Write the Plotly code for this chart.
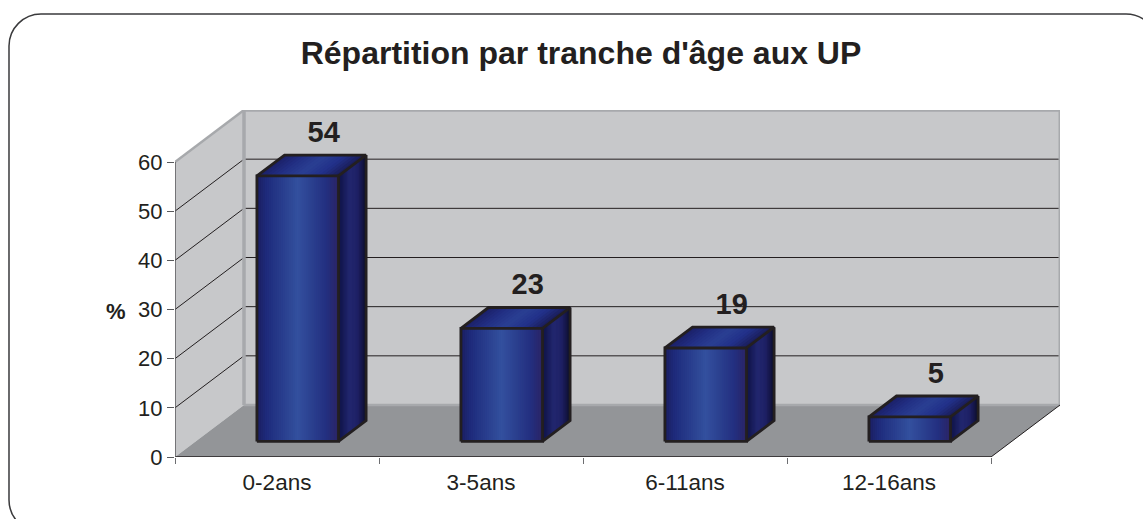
import plotly.graph_objects as go

categories = ["0-2ans", "3-5ans", "6-11ans", "12-16ans"]
values = [54, 23, 19, 5]
y_ticks = [0, 10, 20, 30, 40, 50, 60]
title_text = "Répartition par tranche d'âge aux UP"
y_label = "%"

W, H = 1143, 519
L, R, T, B = 175, 1060, 110, 457   # plot-area pixels
PX_CAT = 204.0
PX_VAL = 295.0 / 60.0
DX = 69.0 / PX_CAT      # full floor depth in category units
DY = 52.0 / PX_VAL      # full floor depth in value units
BAR_W = 0.4
D0, D1 = 0.3, 0.7       # bar front/back depth fractions
N = len(categories)
YMAX = y_ticks[-1]

DARK = "#231f20"
WALL = "#c7c8ca"
FLOOR = "#939598"
EDGE = "#a7a9ac"

FRONT = [(0, "#1b1e60"), (.12, "#1e2b7c"), (.5, "#33509e"), (.85, "#232f80"), (1, "#2b2465")]
TOP = [(0, "#1b1f66"), (.25, "#222f84"), (.5, "#2a3f92"), (.75, "#22318a"), (1, "#1a1c55")]
SIDE = [(0, "#0e1245"), (.4, "#22276f"), (.7, "#1e2064"), (1, "#0c0d2c")]


def colour(stops, t):
    for (a, ca), (b, cb) in zip(stops, stops[1:]):
        if t <= b:
            f = (t - a) / (b - a)
            pa = [int(ca[i:i + 2], 16) for i in (1, 3, 5)]
            pb = [int(cb[i:i + 2], 16) for i in (1, 3, 5)]
            return "rgb(%d,%d,%d)" % tuple(round(p + (q - p) * f) for p, q in zip(pa, pb))
    return stops[-1][1]


def pj(x, v, d=0.0):
    return x + d * DX, v + d * DY


def poly_path(points):
    return "M " + " L ".join(f"{x},{y}" for x, y in points) + " Z"


shapes = []


def add_poly(points, fill):
    shapes.append(dict(type="path", path=poly_path(points), xref="x", yref="y",
                       fillcolor=fill, line=dict(width=0), layer="below"))


def add_line(p, q, color, width):
    shapes.append(dict(type="line", xref="x", yref="y", x0=p[0], y0=p[1], x1=q[0], y1=q[1],
                       line=dict(color=color, width=width), layer="below"))


# walls and floor
add_poly([pj(0, 0), pj(0, YMAX), pj(0, YMAX, 1), pj(0, 0, 1)], WALL)
add_poly([pj(0, 0, 1), pj(0, YMAX, 1), pj(N, YMAX, 1), pj(N, 0, 1)], WALL)
add_poly([pj(0, 0), pj(N, 0), pj(N, 0, 1), pj(0, 0, 1)], FLOOR)
for v in y_ticks[1:-1]:
    add_line(pj(0, v), pj(0, v, 1), DARK, 1)
    add_line(pj(0, v, 1), pj(N, v, 1), DARK, 1)
add_line(pj(0, 0, 1), pj(N, 0, 1), EDGE, 2.5)

# rounded outer border, in pixels converted to paper coordinates
fx = lambda px: (px - L) / (R - L)
fy = lambda py: (B - py) / (B - T)
bl, bt, br, bb, r = 9, 14, 1158, 532, 32
k = r * 0.45
bp = [("M", bl, bt + r), ("C", bl, bt + k, bl + k, bt, bl + r, bt), ("L", br - r, bt),
      ("C", br - k, bt, br, bt + k, br, bt + r), ("L", br, bb - r),
      ("C", br, bb - k, br - k, bb, br - r, bb), ("L", bl + r, bb),
      ("C", bl + k, bb, bl, bb - k, bl, bb - r)]
path = ""
for seg in bp:
    c = seg[1:]
    path += seg[0] + " " + " ".join(f"{fx(c[i])},{fy(c[i + 1])}" for i in range(0, len(c), 2)) + " "
shapes.append(dict(type="path", path=path + "Z", xref="paper", yref="paper",
                   line=dict(color="#3a3a3c", width=1.5), layer="below"))

fig = go.Figure()
centres = [i + 0.5 for i in range(N)]
fronts = [c + D0 * DX for c in centres]
base = D0 * DY

# front faces: stacked bars, each strip runs to the right edge and is painted over by the next
STRIPS = 41
for s in range(STRIPS):
    t0 = s / STRIPS
    wid = BAR_W * (1 - t0)
    fig.add_trace(go.Bar(
        x=[f + BAR_W / 2 - wid / 2 for f in fronts],
        y=values, base=[base] * N, width=wid,
        marker=dict(color=colour(FRONT, t0 + 0.5 / STRIPS), line=dict(width=0)),
        hoverinfo="skip", showlegend=False))

# top and side faces
FSTRIPS = 20
for s in range(FSTRIPS):
    t = s / FSTRIPS
    xs, ys = [], []
    for f, v in zip(fronts, values):
        a = f - BAR_W / 2 + t * BAR_W
        b = f + BAR_W / 2
        h = v + base
        xs += [a, b, b + (D1 - D0) * DX, a + (D1 - D0) * DX, a, None]
        ys += [h, h, h + (D1 - D0) * DY, h + (D1 - D0) * DY, h, None]
    fig.add_trace(go.Scatter(x=xs, y=ys, mode="lines", fill="toself", line=dict(width=0),
                             fillcolor=colour(TOP, t + 0.5 / FSTRIPS),
                             hoverinfo="skip", showlegend=False))
for s in range(FSTRIPS):
    t = s / FSTRIPS
    xs, ys = [], []
    for f, v in zip(fronts, values):
        xr = f + BAR_W / 2
        d0 = t * (D1 - D0)
        d1 = D1 - D0
        xs += [xr + d0 * DX, xr + d1 * DX, xr + d1 * DX, xr + d0 * DX, xr + d0 * DX, None]
        ys += [base + d0 * DY, base + d1 * DY, base + v + d1 * DY, base + v + d0 * DY, base + d0 * DY, None]
    fig.add_trace(go.Scatter(x=xs, y=ys, mode="lines", fill="toself", line=dict(width=0),
                             fillcolor=colour(SIDE, t + 0.5 / FSTRIPS),
                             hoverinfo="skip", showlegend=False))

# dark outlines
xs, ys = [], []
dd = D1 - D0
for f, v in zip(fronts, values):
    a, b = f - BAR_W / 2, f + BAR_W / 2
    h = v + base
    xs += [a, b, b, a, a, None, a, a + dd * DX, b + dd * DX, b, None,
           b + dd * DX, b + dd * DX, b, None]
    ys += [base, base, h, h, base, None, h, h + dd * DY, h + dd * DY, h, None,
           h + dd * DY, base + dd * DY, base, None]
fig.add_trace(go.Scatter(x=xs, y=ys, mode="lines", line=dict(color=DARK, width=2.8),
                         hoverinfo="skip", showlegend=False))


def edge(p, q, color, width):
    fig.add_trace(go.Scatter(x=[p[0], q[0]], y=[p[1], q[1]], mode="lines", cliponaxis=False,
                             line=dict(color=color, width=width),
                             hoverinfo="skip", showlegend=False))


# wall outlines and axis lines, drawn unclipped
edge(pj(0, YMAX), pj(0, YMAX, 1), EDGE, 2.5)
edge(pj(0, 0, 1), pj(0, YMAX, 1), EDGE, 3.5)
edge(pj(0, YMAX, 1), pj(N, YMAX, 1), EDGE, 3.5)
edge(pj(N, 0, 1), pj(N, YMAX, 1), EDGE, 3)
edge(pj(N, 0), pj(N, 0, 1), DARK, 1)
edge((0, 0), (N, 0), DARK, 1.5)
edge((0, 0), (0, YMAX), "#58595b", 1.5)

# value labels
LABEL_DX = 26.0 / PX_CAT
LABEL_DY = 20.5 / PX_VAL
fig.add_trace(go.Scatter(
    x=[f + LABEL_DX for f in fronts],
    y=[v + D1 * DY + LABEL_DY for v in values],
    mode="text", text=[str(v) for v in values], textposition="middle center",
    textfont=dict(family="Liberation Sans", size=29, color=DARK, weight="bold"),
    cliponaxis=False, hoverinfo="skip", showlegend=False))

XTICKFONT = dict(family="Liberation Sans", size=22.5, color=DARK)
YTICKFONT = dict(family="Liberation Sans", size=22, color=DARK)
fig.update_layout(
    width=W, height=H, autosize=False,
    margin=dict(l=L, r=W - R, t=T, b=H - B, pad=0),
    paper_bgcolor="white", plot_bgcolor="white",
    barmode="overlay", showlegend=False, shapes=shapes,
    title=dict(text=title_text, x=581 / W, xref="container", xanchor="center",
               y=1 - 53 / H, yref="container", yanchor="middle",
               font=dict(family="Liberation Sans", size=32, color=DARK, weight="bold")),
    xaxis=dict(range=[0, N + DX], tickmode="array", tickvals=centres, ticktext=categories,
               ticks="", showgrid=False, zeroline=False, showline=False, tickfont=XTICKFONT,
               ticklabelstandoff=9,
               minor=dict(tickmode="array", tickvals=list(range(N + 1)), ticks="outside",
                          ticklen=6, tickcolor="#6d6e71", tickwidth=1, showgrid=False)),
    yaxis=dict(range=[0, YMAX + DY], tickmode="array", tickvals=y_ticks, ticks="outside",
               ticklen=7, tickcolor="#58595b", tickwidth=1, showgrid=False, zeroline=False,
               showline=False, tickfont=YTICKFONT),
    annotations=[dict(text=y_label, xref="paper", yref="paper", x=fx(116), y=fy(311),
                      xanchor="center", yanchor="middle", showarrow=False,
                      font=dict(family="Liberation Sans", size=22, color=DARK, weight="bold"))],
)

fig.write_html("out.html", config={"displayModeBar": False},
               post_script="document.body.style.margin='0';document.body.style.overflow='hidden';")
